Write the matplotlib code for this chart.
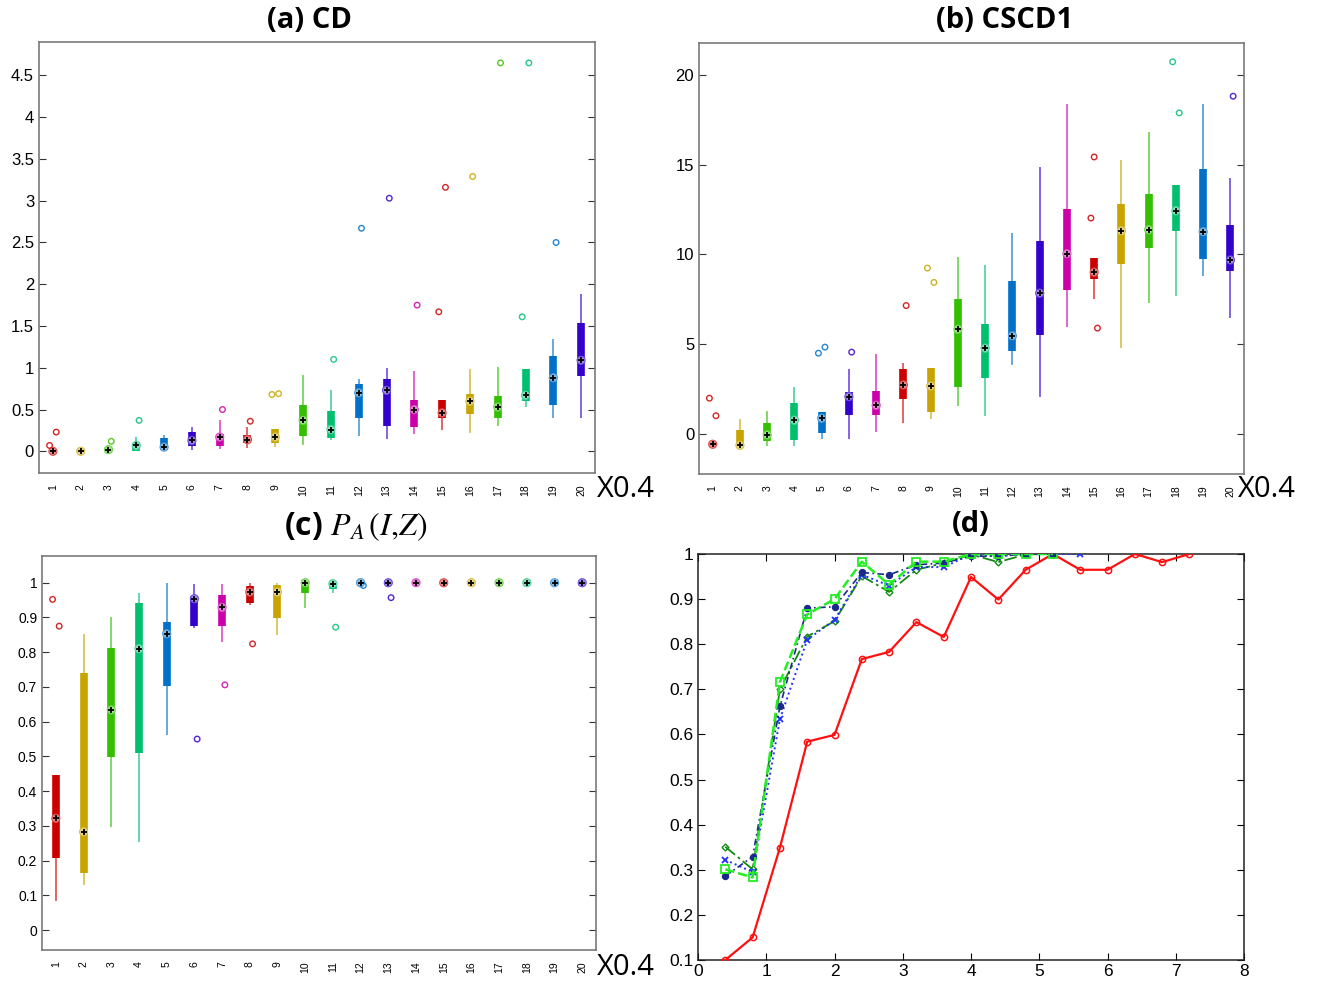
import numpy as np
import matplotlib
matplotlib.use("Agg")
import matplotlib.pyplot as plt
from matplotlib.colors import to_rgb

plt.rcParams["font.family"] = ["Liberation Sans", "DejaVu Sans"]
plt.rcParams["mathtext.fontset"] = "stix"

# --- data ---
labels = [str(i) for i in range(1, 21)]
palette = ["#cc0000", "#c8a400", "#33c000", "#00c070", "#0070c8", "#3300cc", "#cc00aa"]

# panel (a) CD: whisker low, q1, median, q3, whisker high, outliers
cd_wlo = [0.0, 0.0, 0.01, 0.0, 0.02, 0.02, 0.03, 0.04, 0.05, 0.07,
          0.13, 0.18, 0.15, 0.21, 0.26, 0.22, 0.30, 0.53, 0.40, 0.40]
cd_q1 = [0.0, 0.0, 0.01, 0.0, 0.02, 0.06, 0.06, 0.10, 0.10, 0.18,
         0.16, 0.40, 0.30, 0.29, 0.40, 0.45, 0.40, 0.60, 0.55, 0.90]
cd_med = [0.0, 0.0, 0.02, 0.07, 0.05, 0.13, 0.17, 0.14, 0.17, 0.37,
          0.26, 0.70, 0.73, 0.50, 0.46, 0.60, 0.53, 0.67, 0.88, 1.09]
cd_q3 = [0.01, 0.03, 0.04, 0.10, 0.16, 0.23, 0.21, 0.19, 0.27, 0.55,
         0.48, 0.80, 0.87, 0.61, 0.62, 0.68, 0.66, 0.99, 1.14, 1.53]
cd_whi = [0.02, 0.04, 0.07, 0.17, 0.20, 0.29, 0.37, 0.29, 0.27, 0.91,
          0.73, 0.87, 1.00, 0.96, 0.62, 0.99, 1.01, 0.99, 1.34, 1.88]
cd_out = [[0.07, 0.23], [], [0.12], [0.37], [], [], [0.50], [0.36], [0.68, 0.69], [],
          [1.10], [2.67], [3.03], [1.75], [1.67, 3.16], [3.29], [4.65], [1.61, 4.65], [2.50], []]

# panel (b) CSCD1
cs_wlo = [-0.75, -0.76, -0.68, -0.68, -0.30, -0.30, 0.07, 0.62, 0.80, 1.57,
          0.96, 3.84, 2.03, 5.94, 7.50, 4.77, 7.27, 7.68, 8.80, 6.48]
cs_q1 = [-0.70, -0.76, -0.40, -0.36, 0.06, 1.04, 1.04, 1.94, 1.23, 2.59,
         3.13, 4.62, 5.48, 7.99, 8.64, 9.48, 10.35, 11.32, 9.76, 9.05]
cs_med = [-0.59, -0.65, -0.07, 0.75, 0.86, 2.07, 1.58, 2.72, 2.66, 5.83,
          4.77, 5.46, 7.84, 10.04, 9.01, 11.32, 11.38, 12.44, 11.27, 9.69]
cs_q3 = [-0.50, 0.21, 0.57, 1.70, 1.19, 2.34, 2.40, 3.59, 3.69, 7.50,
         6.11, 8.53, 10.73, 12.55, 9.79, 12.83, 13.37, 13.89, 14.77, 11.66]
cs_whi = [-0.45, 0.82, 1.26, 2.61, 1.19, 3.59, 4.45, 3.93, 3.69, 9.84,
          9.41, 11.20, 14.88, 18.40, 9.79, 15.29, 16.85, 13.89, 18.40, 14.24]
cs_out = [[1.98, 1.00], [], [], [], [4.49, 4.83], [4.55], [], [7.15], [9.24, 8.44], [],
          [], [], [], [], [12.03, 15.44, 5.89], [], [], [20.75, 17.90], [], [18.83]]

# panel (c) P_A(I,Z)
pa_wlo = [0.085, 0.129, 0.298, 0.255, 0.563, 0.871, 0.830, 0.935, 0.850, 0.928,
          0.970, 0.995, 1.0, 1.0, 1.0, 1.0, 1.0, 1.0, 1.0, 1.0]
pa_q1 = [0.209, 0.164, 0.499, 0.509, 0.703, 0.875, 0.876, 0.943, 0.898, 0.971,
         0.983, 0.995, 1.0, 1.0, 1.0, 1.0, 1.0, 1.0, 1.0, 1.0]
pa_med = [0.322, 0.283, 0.634, 0.810, 0.853, 0.954, 0.929, 0.973, 0.973, 1.0,
          0.997, 1.0, 1.0, 1.0, 1.0, 1.0, 1.0, 1.0, 1.0, 1.0]
pa_q3 = [0.446, 0.741, 0.811, 0.943, 0.888, 0.962, 0.966, 0.991, 0.994, 1.0,
         1.0, 1.0, 1.0, 1.0, 1.0, 1.0, 1.0, 1.0, 1.0, 1.0]
pa_whi = [0.446, 0.853, 0.900, 0.970, 1.0, 0.997, 0.997, 1.0, 1.0, 1.0,
          1.0, 1.0, 1.0, 1.0, 1.0, 1.0, 1.0, 1.0, 1.0, 1.0]
pa_out = [[0.952, 0.875], [], [], [], [], [0.550], [0.706], [0.824], [], [],
          [0.872], [0.992], [0.957], [], [], [], [], [], [], []]

# panel (d) curves
d_x_red = [0.4, 0.8, 1.2, 1.6, 2.0, 2.4, 2.8, 3.2, 3.6, 4.0, 4.4, 4.8, 5.2, 5.6, 6.0, 6.4, 6.8, 7.2]
d_red = [0.10, 0.15, 0.349, 0.584, 0.599, 0.767, 0.783, 0.849, 0.816, 0.949, 0.899,
         0.965, 1.0, 0.965, 0.965, 1.0, 0.982, 1.0]
d_x = [0.4, 0.8, 1.2, 1.6, 2.0, 2.4, 2.8, 3.2, 3.6, 4.0, 4.4, 4.8, 5.2]
d_lgreen = [0.301, 0.283, 0.716, 0.866, 0.900, 0.983, 0.932, 0.983, 0.983, 1.0, 1.0, 1.0, 1.0]
d_navy = [0.286, 0.329, 0.662, 0.880, 0.883, 0.959, 0.954, 0.976, 0.980, 0.995, 0.995, 1.0, 1.0]
d_x_blue = [0.4, 0.8, 1.2, 1.6, 2.0, 2.4, 2.8, 3.2, 3.6, 4.0, 4.4, 4.8, 5.2, 5.6]
d_blue = [0.322, 0.295, 0.634, 0.810, 0.854, 0.954, 0.930, 0.971, 0.971, 0.999, 0.995, 1.0, 1.0, 1.0]
d_dgreen = [0.351, 0.301, 0.700, 0.817, 0.851, 0.951, 0.916, 0.965, 0.980, 0.999, 0.982, 0.999, 1.0]


def lighten(c, f):
    r = np.array(to_rgb(c))
    return tuple(r + (1 - r) * f)


def compact_box(ax, wlo, q1, med, q3, whi, outl, ylim, yticks, yticklabels):
    pos = np.arange(1, len(med) + 1)
    cols = [palette[i % 7] for i in range(len(med))]
    ax.vlines(pos, wlo, whi, colors=[lighten(c, 0.35) for c in cols], lw=1.3, zorder=2)
    ax.vlines(pos, q1, q3, colors=cols, lw=5.5, zorder=3)
    ax.scatter(pos, med, s=34, facecolors=[lighten(c, 0.55) for c in cols],
               edgecolors=[lighten(c, 0.3) for c in cols], lw=0.8, zorder=4)
    ax.scatter(pos, med, s=20, marker="+", color="black", lw=1.3, zorder=5)
    for p, vals, c in zip(pos, outl, cols):
        if not vals:
            continue
        jit = np.linspace(-0.12, 0.12, len(vals)) if len(vals) > 1 else [0.1]
        ax.scatter(p + np.array(jit), vals, s=16, facecolors="none",
                   edgecolors=lighten(c, 0.15), lw=1.0, zorder=4)
    ax.set_xlim(0.5, 20.5)
    ax.set_ylim(*ylim)
    ax.set_xticks(pos)
    ax.set_xticklabels(labels, rotation=90, fontsize=7.5)
    ax.tick_params(axis="x", length=0, pad=8)
    ax.set_yticks(yticks)
    ax.set_yticklabels(yticklabels, fontsize=12)
    ax.tick_params(axis="y", direction="in", right=True, length=5, width=0.8, color="#333333")
    for s in ax.spines.values():
        s.set_color("#7a7a7a")
        s.set_linewidth(1.2)


fig = plt.figure(figsize=(13.17, 9.84), dpi=100)

ax_a = fig.add_axes([0.0296, 0.5193, 0.4222, 0.4380])
compact_box(ax_a, cd_wlo, cd_q1, cd_med, cd_q3, cd_whi, cd_out, (-0.26, 4.9),
            [0, 0.5, 1, 1.5, 2, 2.5, 3, 3.5, 4, 4.5],
            ["0", "0.5", "1", "1.5", "2", "2.5", "3", "3.5", "4", "4.5"])

ax_b = fig.add_axes([0.5308, 0.5183, 0.4138, 0.4380])
compact_box(ax_b, cs_wlo, cs_q1, cs_med, cs_q3, cs_whi, cs_out, (-2.25, 21.8),
            [0, 5, 10, 15, 20], ["0", "5", "10", "15", "20"])

ax_c = fig.add_axes([0.0319, 0.0346, 0.4207, 0.4004])
compact_box(ax_c, pa_wlo, pa_q1, pa_med, pa_q3, pa_whi, pa_out, (-0.057, 1.077),
            [0, 0.1, 0.2, 0.3, 0.4, 0.5, 0.6, 0.7, 0.8, 0.9, 1],
            ["0", "0.1", "0.2", "0.3", "0.4", "0.5", "0.6", "0.7", "0.8", "0.9", "1"])
ax_c.tick_params(axis="y", labelsize=10)

ax_d = fig.add_axes([0.5300, 0.0244, 0.4146, 0.4126])
ax_d.plot(d_x_red, d_red, "-", color="#ff1010", lw=1.6, marker="o", ms=4.5, mfc="none", mew=1.1, zorder=3)
ax_d.plot(d_x, d_dgreen, color="#108a10", lw=1.3, ls=(0, (7, 2, 1.5, 2)), marker="D", ms=3.5,
          mfc="none", mew=1.0, zorder=4)
ax_d.plot(d_x_blue, d_blue, ":", color="#2030ff", lw=1.4, marker="x", ms=5, mew=1.3, zorder=4)
ax_d.plot(d_x, d_navy, color="#1a2a8a", lw=1.2, ls=(0, (4, 2, 1, 2)), marker="o", ms=4.5,
          mfc="#1a2a8a", mew=0.8, zorder=4)
ax_d.plot(d_x, d_lgreen, "--", color="#22ee22", lw=1.8, marker="s", ms=6, mfc="none", mew=1.3, zorder=5)
ax_d.set_xlim(0, 8)
ax_d.set_ylim(0.1, 1)
ax_d.set_xticks(range(0, 9))
ax_d.set_yticks([0.1, 0.2, 0.3, 0.4, 0.5, 0.6, 0.7, 0.8, 0.9, 1])
ax_d.set_yticklabels(["0.1", "0.2", "0.3", "0.4", "0.5", "0.6", "0.7", "0.8", "0.9", "1"])
ax_d.tick_params(direction="in", top=True, right=True, length=5, labelsize=12.5, pad=3)
for s in ax_d.spines.values():
    s.set_color("#222222")
    s.set_linewidth(1.1)

# titles and scale notes
tfont = dict(fontsize=21, fontweight="bold", family=["Open Sans", "DejaVu Sans"])
fig.text(0.235, 0.979, "(a) CD", ha="center", va="center", **tfont)
fig.text(0.763, 0.979, "(b) CSCD1", ha="center", va="center", **tfont)
fig.text(0.270, 0.465, "(c) $P_A\\,(I{,}Z)$", ha="center", va="center", fontsize=23,
         fontweight="bold", family=["Open Sans", "DejaVu Sans"])
fig.text(0.737, 0.467, "(d)", ha="center", va="center", **tfont)

nfont = dict(fontsize=21, family=["Open Sans", "DejaVu Sans"], ha="left", va="center")
fig.text(0.453, 0.503, "X0.4", **nfont)
fig.text(0.940, 0.503, "X0.4", **nfont)
fig.text(0.453, 0.017, "X0.4", **nfont)

fig.savefig("out.png", dpi=100, facecolor="white")
